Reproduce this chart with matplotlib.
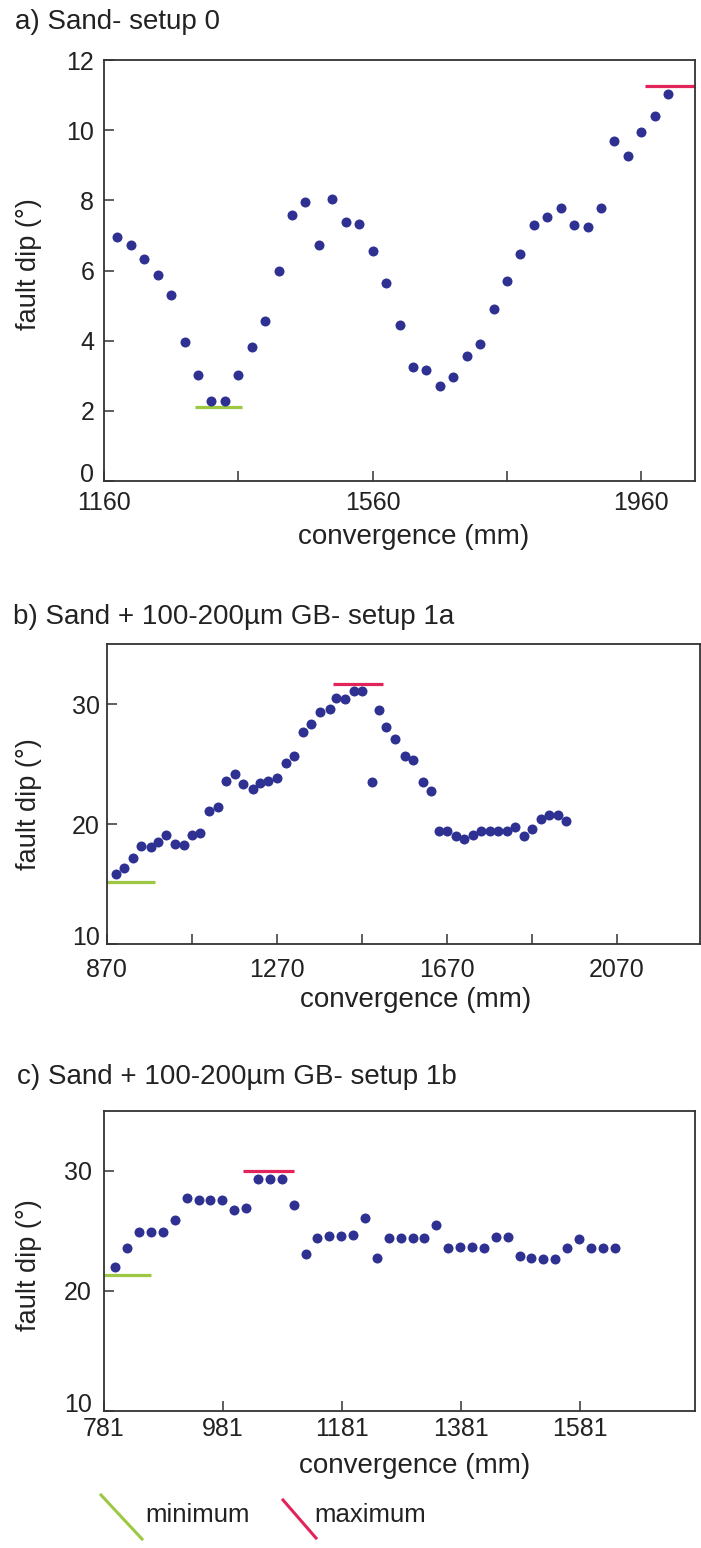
import matplotlib
matplotlib.use('Agg')
import matplotlib.pyplot as plt
from matplotlib.lines import Line2D
from matplotlib.transforms import ScaledTranslation

plt.rcParams['font.family'] = ['Liberation Sans', 'DejaVu Sans']

### Data
# a) Sand - setup 0
conv_a = [1180, 1200, 1220, 1240, 1260, 1280, 1300, 1320, 1340, 1360, 1380, 1400,
          1420, 1440, 1460, 1480, 1500, 1520, 1540, 1560, 1580, 1600, 1620, 1640,
          1660, 1680, 1700, 1720, 1740, 1760, 1780, 1800, 1820, 1840, 1860, 1880,
          1900, 1920, 1940, 1960, 1980, 2000]
dip_a = [6.95, 6.72, 6.32, 5.88, 5.31, 3.96, 3.01, 2.29, 2.27, 3.01, 3.82, 4.57,
         5.98, 7.57, 7.94, 6.73, 8.04, 7.38, 7.33, 6.57, 5.63, 4.46, 3.25, 3.16,
         2.71, 2.96, 3.56, 3.90, 4.89, 5.69, 6.47, 7.29, 7.52, 7.78, 7.30, 7.23,
         7.79, 9.70, 9.25, 9.94, 10.39, 11.04]
min_a = ([1295, 1365], 2.1)
max_a = ([1965, 2040], 11.25)

# b) Sand + 100-200um GB - setup 1a
conv_b = [890, 910, 930, 951, 973, 989, 1008, 1029, 1051, 1069, 1088, 1110, 1131,
          1151, 1171, 1189, 1213, 1230, 1249, 1270, 1291, 1310, 1330, 1349, 1371,
          1395, 1408, 1430, 1450, 1470, 1493, 1510, 1527, 1548, 1570, 1591, 1614,
          1633, 1650, 1670, 1690, 1710, 1730, 1750, 1770, 1790, 1810, 1830, 1850,
          1870, 1890, 1910, 1930, 1950]
dip_b = [15.8, 16.3, 17.2, 18.2, 18.06, 18.5, 19.1, 18.3, 18.27, 19.1, 19.25, 21.05,
         21.4, 23.6, 24.2, 23.3, 22.9, 23.45, 23.6, 23.8, 25.1, 25.7, 27.7, 28.3,
         29.3, 29.6, 30.5, 30.4, 31.1, 31.1, 23.5, 29.5, 28.1, 27.1, 25.66, 25.3,
         23.5, 22.76, 19.39, 19.39, 19.03, 18.76, 19.1, 19.39, 19.39, 19.39, 19.39,
         19.78, 18.97, 19.6, 20.4, 20.77, 20.77, 20.27]
min_b = ([870, 983], 15.2)
max_b = ([1402, 1520], 31.7)

# c) Sand + 100-200um GB - setup 1b
conv_c = [800, 820, 840, 860, 880, 900, 920, 940, 960, 980, 1000, 1020, 1040, 1060,
          1080, 1100, 1120, 1140, 1160, 1180, 1200, 1220, 1240, 1260, 1280, 1300,
          1320, 1340, 1360, 1380, 1400, 1420, 1440, 1460, 1480, 1500, 1520, 1540,
          1560, 1580, 1600, 1620, 1640]
dip_c = [21.97, 23.56, 24.88, 24.88, 24.88, 25.93, 27.76, 27.57, 27.57, 27.57, 26.78,
         26.92, 29.32, 29.32, 29.32, 27.14, 23.1, 24.4, 24.6, 24.6, 24.66, 26.07,
         22.77, 24.4, 24.4, 24.4, 24.4, 25.53, 23.6, 23.7, 23.7, 23.56, 24.46, 24.46,
         22.9, 22.77, 22.7, 22.7, 23.6, 24.3, 23.56, 23.56, 23.56]
min_c = ([781, 860], 21.35)
max_c = ([1015, 1101], 30.0)

titles = ['a) Sand- setup 0',
          'b) Sand + 100-200µm GB- setup 1a',
          'c) Sand + 100-200µm GB- setup 1b']

### Styles
DOT = '#2E3192'
RED = '#E3245A'
GREEN = '#9DC843'
SPINE = '#333333'
TXT = '#222222'
W, H = 701, 1548

fig = plt.figure(figsize=(W / 100, H / 100), dpi=100)


def make_axes(left, top, right, bottom):
    return fig.add_axes([left / W, 1 - bottom / H, (right - left) / W, (bottom - top) / H])


def style(ax, xpad, ypad):
    for s in ax.spines.values():
        s.set_linewidth(1.3)
        s.set_color(SPINE)
    ax.tick_params(direction='in', length=7, width=1.1, color=SPINE,
                   labelsize=18, labelcolor=TXT)
    ax.tick_params(axis='x', pad=xpad)
    ax.tick_params(axis='y', pad=ypad)


panels = [
    dict(box=(104, 60, 695, 481), xlim=(1160, 2040), ylim=(0, 12),
         xticks=[1160, 1360, 1560, 1760, 1960], xlab=['1160', '', '1560', '', '1960'],
         yticks=[0, 2, 4, 6, 8, 10, 12], x=conv_a, y=dip_a, mn=min_a, mx=max_a,
         pads=(7.5, 7), title=(15, 22), xl=(414, 537), yl=(29, 264)),
    dict(box=(107, 644, 700, 944), xlim=(870, 2265), ylim=(10, 35),
         xticks=[870, 1070, 1270, 1470, 1670, 1870, 2070],
         xlab=['870', '', '1270', '', '1670', '', '2070'],
         yticks=[10, 20, 30], x=conv_b, y=dip_b, mn=min_b, mx=max_b,
         pads=(10, 5), title=(13, 617), xl=(416, 1000), yl=(29, 804)),
    dict(box=(104, 1111, 695, 1411), xlim=(781, 1775), ylim=(10, 35),
         xticks=[781, 981, 1181, 1381, 1581], xlab=['781', '981', '1181', '1381', '1581'],
         yticks=[10, 20, 30], x=conv_c, y=dip_c, mn=min_c, mx=max_c,
         pads=(4.5, 8.6), title=(17, 1077), xl=(415, 1466), yl=(29, 1265)),
]

for p, title in zip(panels, titles):
    l, t, r, b = p['box']
    ax = make_axes(l, t, r, b)
    ax.plot(p['mn'][0], [p['mn'][1]] * 2, color=GREEN, lw=2.3, solid_capstyle='butt',
            clip_on=False, zorder=2)
    ax.plot(p['mx'][0], [p['mx'][1]] * 2, color=RED, lw=2.3, solid_capstyle='butt',
            clip_on=False, zorder=2)
    ax.plot(p['x'], p['y'], 'o', color=DOT, ms=7.2, mec=DOT, mew=0, zorder=3)
    ax.set_xlim(*p['xlim'])
    ax.set_ylim(*p['ylim'])
    ax.set_xticks(p['xticks'])
    ax.set_xticklabels(p['xlab'])
    ax.set_yticks(p['yticks'])
    style(ax, *p['pads'])

    # bottom y label sits a little above the corner, clear of the first x label
    fig.canvas.draw()
    ylabs = ax.get_yticklabels()
    ylabs[0].set_transform(ylabs[0].get_transform()
                           + ScaledTranslation(0, 6 / 72, fig.dpi_scale_trans))

    ax.set_xlabel('convergence (mm)', fontsize=20, color=TXT)
    ax.xaxis.label.set_va('center')
    ax.xaxis.set_label_coords((p['xl'][0] - l) / (r - l), -(p['xl'][1] - b) / (b - t))
    ax.set_ylabel('fault dip (°)', fontsize=19.5, color=TXT)
    ax.yaxis.label.set_va('center')
    ax.yaxis.set_label_coords((p['yl'][0] - l) / (r - l), (b - p['yl'][1]) / (b - t))

    fig.text(p['title'][0] / W, 1 - p['title'][1] / H, title, fontsize=20,
             ha='left', va='center', color=TXT)

### Legend at the bottom
fig.add_artist(Line2D([101 / W, 142 / W], [1 - 1495 / H, 1 - 1539 / H], color=GREEN, lw=2.2))
fig.text(145 / W, 1 - 1515 / H, 'minimum', fontsize=18.5, ha='left', va='center', color=TXT)
fig.add_artist(Line2D([283 / W, 316 / W], [1 - 1500 / H, 1 - 1538 / H], color=RED, lw=2.2))
fig.text(314 / W, 1 - 1515 / H, 'maximum', fontsize=18.5, ha='left', va='center', color=TXT)

fig.savefig('out.png', dpi=100)
